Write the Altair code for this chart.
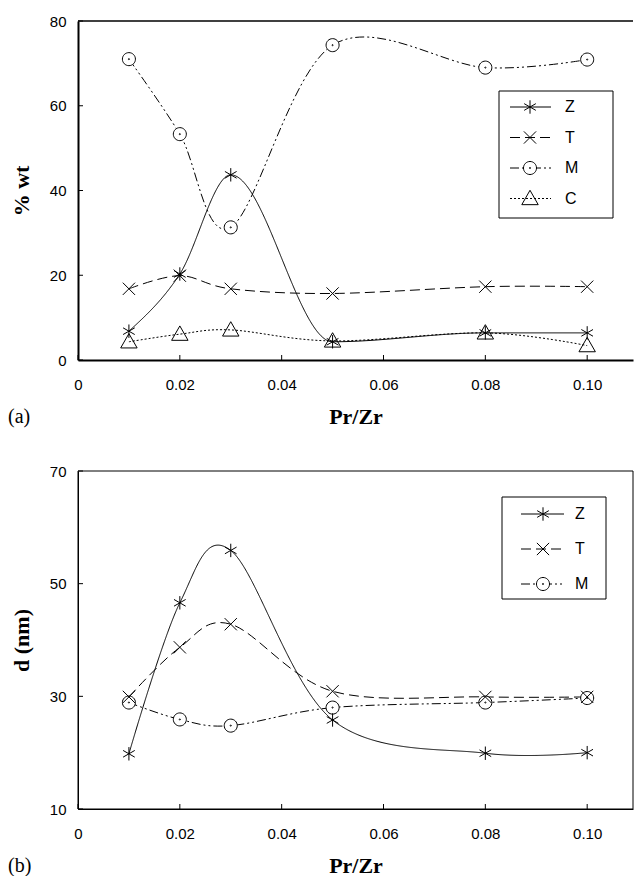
import altair as alt
import pandas as pd

# ---------------- data ----------------
x_vals = [0.01, 0.02, 0.03, 0.05, 0.08, 0.10]

wt_Z = [6.8, 20.3, 43.7, 4.3, 6.4, 6.4]
wt_T = [16.8, 19.9, 16.8, 15.7, 17.3, 17.3]
wt_M = [71.0, 53.3, 31.3, 74.3, 69.0, 70.9]
wt_C = [4.3, 6.1, 7.1, 4.5, 6.4, 3.4]

d_Z = [19.8, 46.6, 55.9, 25.8, 19.9, 20.0]
d_T = [29.9, 38.7, 42.8, 30.9, 29.9, 29.9]
d_M = [28.9, 25.9, 24.8, 28.0, 28.9, 29.7]

x_ticks = [0, 0.02, 0.04, 0.06, 0.08, 0.10]
wt_ticks = [0, 20, 40, 60, 80]
d_ticks = [10, 30, 50, 70]

names_a = ["Z", "T", "M", "C"]
names_b = ["Z", "T", "M"]

# ---------------- styles ----------------
XMAX = 0.109
W = 555
SANS = "Liberation Sans"
SERIF = "Liberation Serif"

ASTER = "M0,-1L0,1M-0.87,-0.5L0.87,0.5M-0.87,0.5L0.87,-0.5"
CROSS = "M-1,-1L1,1M-1,1L1,-1"
CIRC = ("M1,0A1,1,0,1,1,-1,0A1,1,0,1,1,1,0Z"
        "M0.09,0A0.09,0.09,0,1,1,-0.09,0A0.09,0.09,0,1,1,0.09,0Z")
TRI = "M0,-1L1,0.75L-1,0.75Z"

style = {
    "Z": dict(dash=[1, 0], shape=ASTER, size=180, fill=None),
    "T": dict(dash=[10, 5], shape=CROSS, size=150, fill=None),
    "M": dict(dash=[9, 3, 2, 3, 2, 3], shape=CIRC, size=170, fill="white"),
    "C": dict(dash=[2, 2], shape=TRI, size=270, fill=None),
}


def point_mark(name):
    st = style[name]
    if st["fill"]:
        return dict(shape=st["shape"], size=st["size"], filled=True,
                    fill=st["fill"], stroke="black", strokeWidth=1, opacity=1)
    return dict(shape=st["shape"], size=st["size"], filled=False,
                color="black", strokeWidth=1, opacity=1)


def make_panel(series, names, ydom, yticks, H, ytitle, tag, leg, axis_w, box,
               interp):
    xs = alt.Scale(domain=[0, XMAX], nice=False, zero=False)
    ys = alt.Scale(domain=ydom, nice=False, zero=False)

    ax_x = alt.Axis(values=x_ticks, title="Pr/Zr", grid=False, ticks=False,
                    labelExpr="datum.value == 0 ? '0' : format(datum.value, '.2f')",
                    labelFont=SANS, labelFontSize=15, labelColor="black",
                    labelPadding=17, labelFlush=False,
                    titleFont=SERIF, titleFontSize=22, titleFontWeight="bold",
                    titleColor="black", titlePadding=14,
                    domainColor="black", domainWidth=axis_w)
    ax_y = alt.Axis(values=yticks, title=ytitle, grid=False, ticks=False,
                    labelFont=SANS, labelFontSize=15, labelColor="black",
                    labelPadding=12,
                    titleFont=SERIF, titleFontSize=22, titleFontWeight="bold",
                    titleColor="black", titlePadding=16,
                    domainColor="black", domainWidth=axis_w)

    X = lambda: alt.X("x:Q", scale=xs, axis=ax_x)
    Y = lambda: alt.Y("v:Q", scale=ys, axis=ax_y)

    layers = []
    # inward ticks
    layers.append(alt.Chart(pd.DataFrame({"x": x_ticks})).mark_rule(
        color="black", strokeWidth=1).encode(
        x=X(), y=alt.value(H - 5), y2=alt.value(H)))
    layers.append(alt.Chart(pd.DataFrame({"v": yticks})).mark_rule(
        color="black", strokeWidth=1).encode(
        y=Y(), x=alt.value(0), x2=alt.value(5)))

    if box:
        layers.append(alt.Chart(pd.DataFrame({"k": [0]})).mark_rect(
            fillOpacity=0, stroke="black", strokeWidth=1).encode(
            x=alt.value(0), x2=alt.value(W), y=alt.value(0), y2=alt.value(H)))
    else:
        layers.append(alt.Chart(pd.DataFrame({"k": [0]})).mark_rule(
            color="black", strokeWidth=1.5).encode(
            x=alt.value(0), x2=alt.value(W), y=alt.value(0)))

    # curves
    for name in names:
        df = pd.DataFrame({"x": x_vals, "v": series[name]})
        layers.append(alt.Chart(df).mark_line(
            interpolate=interp.get(name, "cardinal"), color="black",
            strokeWidth=1, strokeDash=style[name]["dash"]).encode(
            x=X(), y=Y()))
    # markers (circles first so crosses overlay them)
    order = [n for n in names if n == "M"] + [n for n in names if n != "M"]
    for name in order:
        df = pd.DataFrame({"x": x_vals, "v": series[name]})
        layers.append(alt.Chart(df).mark_point(**point_mark(name)).encode(
            x=X(), y=Y()))

    # legend
    bx0, bx1, by0, by1, row0, dy, lx0, lx1, sx, tx = leg
    layers.append(alt.Chart(pd.DataFrame({"k": [0]})).mark_rect(
        fill="white", stroke="black", strokeWidth=1).encode(
        x=alt.value(bx0), x2=alt.value(bx1), y=alt.value(by0), y2=alt.value(by1)))
    for i, name in enumerate(names):
        ry = row0 + i * dy
        d1 = pd.DataFrame({"s": [name]})
        layers.append(alt.Chart(d1).mark_rule(
            color="black", strokeWidth=1, strokeDash=style[name]["dash"]).encode(
            x=alt.value(lx0), x2=alt.value(lx1), y=alt.value(ry)))
        layers.append(alt.Chart(d1).mark_point(**point_mark(name)).encode(
            x=alt.value(sx), y=alt.value(ry)))
        layers.append(alt.Chart(d1).mark_text(
            align="left", baseline="middle", font=SANS, fontSize=16,
            color="black").encode(
            x=alt.value(tx), y=alt.value(ry), text="s:N"))

    # panel tag
    layers.append(alt.Chart(pd.DataFrame({"t": [tag]})).mark_text(
        align="left", baseline="middle", font=SERIF, fontSize=20,
        color="black").encode(
        x=alt.value(-70), y=alt.value(H + 57), text="t:N"))

    return alt.layer(*layers).properties(width=W, height=H)


top = make_panel(
    {"Z": wt_Z, "T": wt_T, "M": wt_M, "C": wt_C}, names_a,
    [0, 80], wt_ticks, 339, "% wt", "(a)",
    (421, 535, 70, 197, 86, 30.5, 432, 473, 452, 487), 2, False,
    {"Z": "monotone"})

bottom = make_panel(
    {"Z": d_Z, "T": d_T, "M": d_M}, names_b,
    [10, 70], d_ticks, 338, "d (nm)", "(b)",
    (424, 528, 26, 128, 43, 35, 443, 486, 465, 497), 1, True, {})

chart = alt.vconcat(top, bottom, spacing=37).properties(
    padding={"left": 8, "top": 14, "right": 0, "bottom": 0},
    background="white",
).configure_view(stroke=None)

chart.save("out.html", embed_options={"renderer": "svg", "actions": False})
